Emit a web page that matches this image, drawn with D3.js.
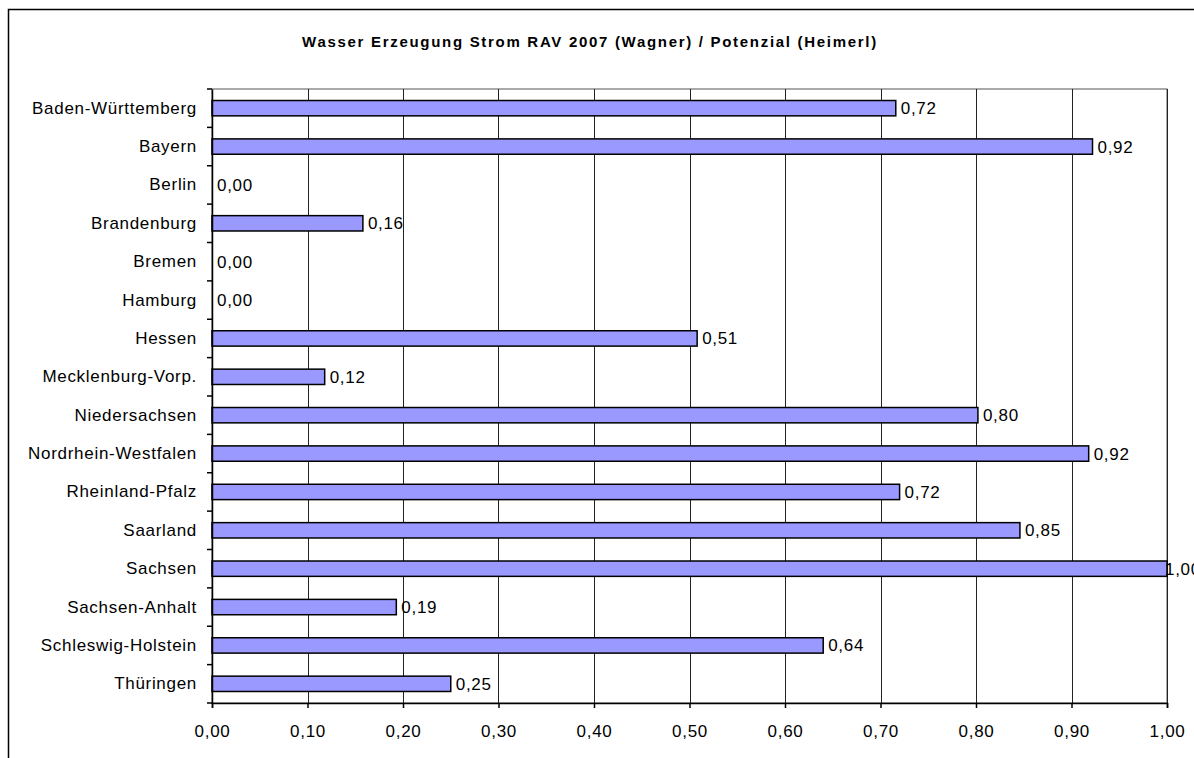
<!DOCTYPE html>
<html>
<head>
<meta charset="utf-8">
<script src="https://cdn.jsdelivr.net/npm/d3@7"></script>
<style>
  body { margin: 0; background: #fff; }
  svg { display: block; font-family: "Liberation Sans", Arial, sans-serif; }
</style>
</head>
<body>
<svg width="1194" height="758"></svg>
<script>
// Categories (Bundesländer) and ratio values
const categories = ["Baden-Württemberg", "Bayern", "Berlin", "Brandenburg", "Bremen", "Hamburg",
  "Hessen", "Mecklenburg-Vorp.", "Niedersachsen", "Nordrhein-Westfalen", "Rheinland-Pfalz",
  "Saarland", "Sachsen", "Sachsen-Anhalt", "Schleswig-Holstein", "Thüringen"];
const values = [0.716, 0.922, 0, 0.158, 0, 0, 0.508, 0.118, 0.802, 0.918, 0.72, 0.846, 1.0, 0.193, 0.64, 0.25];
const xTicks = [0, 0.1, 0.2, 0.3, 0.4, 0.5, 0.6, 0.7, 0.8, 0.9, 1.0];

const data = categories.map((c, i) => ({ name: c, value: values[i] }));

const svg = d3.select("svg");
const fmt = v => d3.format(".2f")(v).replace(".", ",");
const fontSize = "17px";
const spacing = "0.7px";

// Outer chart border (extends past the window)
svg.append("rect")
  .attr("x", 8.5).attr("y", 9.5)
  .attr("width", 1300).attr("height", 900)
  .attr("fill", "none").attr("stroke", "#000").attr("stroke-width", 1.5);

// Title
svg.append("text")
  .attr("x", 590).attr("y", 47)
  .attr("text-anchor", "middle")
  .style("font-size", "15px").style("font-weight", "bold")
  .style("letter-spacing", "1.7px")
  .text("Wasser Erzeugung Strom RAV 2007 (Wagner) / Potenzial (Heimerl)");

const plotLeft = 212, plotRight = 1167, plotTop = 89, plotBottom = 703;

const x = d3.scaleLinear().domain([0, 1]).range([plotLeft, plotRight]);
const y = d3.scaleBand().domain(categories).range([plotTop, plotBottom]).paddingInner(0.6).paddingOuter(0.3);
const band = d3.scaleBand().domain(categories).range([plotTop, plotBottom]);

// Plot frame and gridlines
svg.append("rect")
  .attr("x", plotLeft).attr("y", plotTop)
  .attr("width", plotRight - plotLeft).attr("height", plotBottom - plotTop)
  .attr("fill", "none").attr("stroke", "#555").attr("stroke-width", 1);

svg.append("g")
  .selectAll("line")
  .data(xTicks.slice(1))
  .join("line")
  .attr("x1", d => Math.round(x(d)) + 0.5).attr("x2", d => Math.round(x(d)) + 0.5)
  .attr("y1", plotTop).attr("y2", plotBottom)
  .attr("stroke", "#222").attr("stroke-width", 1);

// Bars
svg.append("g")
  .selectAll("rect")
  .data(data.filter(d => d.value > 0))
  .join("rect")
  .attr("x", x(0))
  .attr("y", d => y(d.name))
  .attr("width", d => x(d.value) - x(0))
  .attr("height", y.bandwidth())
  .attr("fill", "#9999FF")
  .attr("stroke", "#000")
  .attr("stroke-width", 1.5);

// Value labels (the full-length bar's label is pulled back onto the bar end, as in the original)
svg.append("g")
  .selectAll("text")
  .data(data)
  .join("text")
  .attr("x", d => Math.min(x(d.value) + 5, plotRight - 2))
  .attr("y", d => y(d.name) + y.bandwidth() / 2)
  .attr("dy", "0.35em")
  .style("font-size", fontSize)
  .style("letter-spacing", spacing)
  .text(d => fmt(d.value));

// Y axis
const yAxis = svg.append("g")
  .attr("transform", `translate(${plotLeft},0)`)
  .call(d3.axisLeft(band).tickSize(0).tickPadding(15));
yAxis.select(".domain").attr("stroke", "#000").attr("stroke-width", 1.5);
yAxis.selectAll("text").style("font-size", fontSize).style("letter-spacing", spacing).attr("fill", "#000");
yAxis.append("g")
  .selectAll("line")
  .data(d3.range(categories.length + 1))
  .join("line")
  .attr("x1", -5).attr("x2", 0)
  .attr("y1", i => plotTop + i * band.step()).attr("y2", i => plotTop + i * band.step())
  .attr("stroke", "#000").attr("stroke-width", 1.5);

// X axis
const xAxis = svg.append("g")
  .attr("transform", `translate(0,${plotBottom})`)
  .call(d3.axisBottom(x).tickValues(xTicks).tickSize(5).tickPadding(17).tickFormat(fmt));
xAxis.select(".domain").attr("stroke", "#000").attr("stroke-width", 1.5);
xAxis.selectAll(".tick line").attr("stroke", "#000").attr("stroke-width", 1.5);
xAxis.selectAll("text").style("font-size", fontSize).style("letter-spacing", spacing).attr("fill", "#000");
</script>
</body>
</html>
